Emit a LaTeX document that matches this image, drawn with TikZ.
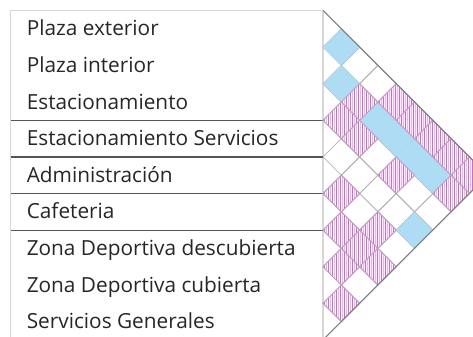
\documentclass[tikz,border=0pt]{standalone}
\usepackage{fontspec}
\setmainfont{Open Sans}
\usetikzlibrary{positioning}
\definecolor{relblue}{RGB}{174,220,245}
\definecolor{hatchdark}{RGB}{200,110,200}
\definecolor{hatchlight}{RGB}{232,184,232}
\definecolor{hatchback}{RGB}{253,245,253}
\definecolor{hatchedge}{RGB}{196,156,196}
\definecolor{gridgray}{RGB}{180,180,180}
\definecolor{edgegray}{RGB}{125,125,125}
\definecolor{rulegray}{RGB}{85,85,85}
\definecolor{framegray}{RGB}{215,215,215}

\newcommand{\rowh}{36.6}
\newcommand{\halfh}{18.3}
\newcommand{\topy}{10.5}
\newcommand{\gridx}{323}

\begin{document}
\begin{tikzpicture}[x=0.75pt,y=-0.75pt,
  rowlabel/.style={anchor=base west,inner sep=0pt,text=black!85,
    font=\fontsize{15.6}{18}\selectfont},
  frameline/.style={draw=framegray,line width=0.8},
  ruleline/.style={draw=rulegray,line width=0.9},
  cellline/.style={draw=gridgray,line width=0.6},
  edgeline/.style={draw=edgegray,line width=0.8}]
  \useasboundingbox (0,0) rectangle (473,336);
  \clip (0,0) rectangle (473,336);

  % Left panel with the room names
  \draw[frameline] (\gridx,\topy) -- (10.5,\topy) -- (10.5,345);
  \draw[frameline] (\gridx,\topy) -- (\gridx,345);
  \foreach \k in {3,4,5,6}
    \draw[ruleline] (10.5,\topy+\rowh*\k) -- (\gridx,\topy+\rowh*\k);

  \foreach \i/\txt in {0/Plaza exterior,1/Plaza interior,2/Estacionamiento,
      3/Estacionamiento Servicios,4/Administración,5/Cafeteria,
      6/Zona Deportiva descubierta,7/Zona Deportiva cubierta,
      8/Servicios Generales}
    \node[rowlabel] (room\i) at (26.5,\topy+\rowh*\i+25.4) {\txt};

  % Grid of all pairs
  \foreach \i in {0,...,7} {
    \pgfmathtruncatemacro{\jstart}{\i+1}
    \foreach \j in {\jstart,...,8} {
      \pgfmathsetmacro{\cx}{\gridx+(\j-\i)*\halfh}
      \pgfmathsetmacro{\cy}{\topy+(\i+\j+1)*\halfh}
      \draw[cellline] (\cx-\halfh,\cy) -- (\cx,\cy-\halfh) -- (\cx+\halfh,\cy)
        -- (\cx,\cy+\halfh) -- cycle;
    }
  }

  % Strong relation
  \foreach \i/\j in {0/1,1/2,1/4,1/5,1/6,1/7,3/8} {
    \pgfmathsetmacro{\cx}{\gridx+(\j-\i)*\halfh}
    \pgfmathsetmacro{\cy}{\topy+(\i+\j+1)*\halfh}
    \fill[relblue] (\cx-\halfh,\cy) -- (\cx,\cy-\halfh) -- (\cx+\halfh,\cy)
      -- (\cx,\cy+\halfh) -- cycle;
  }

  % Medium relation (hatched)
  \foreach \i/\j in {0/4,0/5,0/6,0/7,0/8,1/3,1/8,2/3,2/4,2/6,
      4/5,4/7,5/6,5/7,5/8,6/7,7/8} {
    \pgfmathsetmacro{\cx}{\gridx+(\j-\i)*\halfh}
    \pgfmathsetmacro{\cy}{\topy+(\i+\j+1)*\halfh}
    \begin{scope}
      \clip (\cx-\halfh,\cy) -- (\cx,\cy-\halfh) -- (\cx+\halfh,\cy)
        -- (\cx,\cy+\halfh) -- cycle;
      \fill[hatchback] (\cx-\halfh,\cy-\halfh) rectangle ++(\rowh,\rowh);
      \foreach \k in {0,...,9}
        \draw[hatchlight,line width=0.6] (\cx-\halfh+3.5+\k*4,\cy-\halfh)
          -- ++(0,\rowh);
      \foreach \k in {0,...,9}
        \draw[hatchdark,line width=0.6] (\cx-\halfh+1.5+\k*4,\cy-\halfh)
          -- ++(0,\rowh);
    \end{scope}
    \draw[hatchedge,line width=0.7] (\cx-\halfh,\cy) -- (\cx,\cy-\halfh)
      -- (\cx+\halfh,\cy) -- (\cx,\cy+\halfh) -- cycle;
  }

  % Outer edges of the triangle
  \draw[edgeline] (\gridx,\topy) -- ++(9*\halfh,9*\halfh) -- ++(-9*\halfh,9*\halfh);
\end{tikzpicture}
\end{document}
